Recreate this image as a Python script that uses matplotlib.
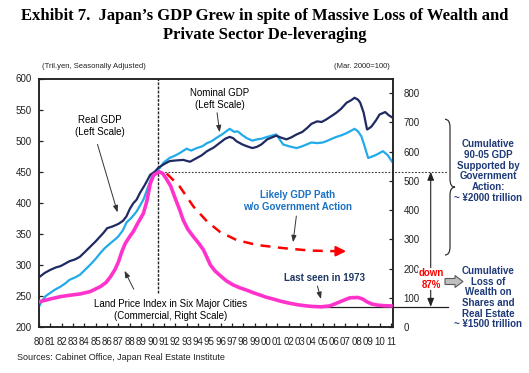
import matplotlib
matplotlib.use("Agg")
import matplotlib.pyplot as plt
from matplotlib.patches import Polygon
from matplotlib.path import Path
from matplotlib.patches import PathPatch
import matplotlib.transforms as mtransforms
import numpy as np

plt.rcParams['font.family'] = ['Liberation Sans', 'DejaVu Sans']

# ---- data ----
real_years = [1980.0, 1980.5, 1981.0, 1981.5, 1981.9, 1982.3, 1982.7, 1983.2, 1983.6, 1984.0,
              1984.5, 1985.0, 1985.4, 1985.7, 1986.0, 1986.5, 1987.0, 1987.4, 1987.7, 1988.0,
              1988.3, 1988.6, 1988.9, 1989.3, 1989.8, 1990.2, 1990.5, 1991.0, 1991.5, 1992.0,
              1992.7, 1993.3, 1993.9, 1994.3, 1994.8, 1995.4, 1995.9, 1996.4, 1996.8, 1997.1,
              1997.4, 1997.9, 1998.3, 1998.8, 1999.2, 1999.6, 2000.1, 2000.5, 2000.9, 2001.3,
              2001.8, 2002.2, 2002.7, 2003.2, 2003.6, 2004.0, 2004.5, 2004.9, 2005.3, 2005.8,
              2006.2, 2006.6, 2007.1, 2007.5, 2007.8, 2008.1, 2008.3, 2008.6, 2008.9, 2009.1,
              2009.3, 2009.7, 2010.0, 2010.5, 2010.8, 2011.15]
real_gdp = [280, 287, 292, 296, 298, 302, 306, 309, 313, 320,
            329, 338, 346, 352, 359, 362, 366, 371, 378, 390,
            399, 405, 416, 428, 445, 450, 456, 462, 467, 468,
            469, 466, 472, 476, 483, 489, 496, 503, 506, 504,
            499, 494, 491, 488, 490, 494, 502, 505, 508, 505,
            502, 505, 510, 514, 520, 527, 531, 530, 534, 540,
            545, 551, 561, 565, 569, 566, 561, 545, 518, 520,
            523, 533, 542, 546, 541, 537]

nom_years = [1980.0, 1980.3, 1980.6, 1981.0, 1981.4, 1981.9, 1982.3, 1982.7, 1983.2, 1983.6,
             1984.0, 1984.5, 1985.0, 1985.4, 1985.8, 1986.3, 1986.7, 1987.0, 1987.4, 1987.7,
             1988.2, 1988.6, 1989.2, 1989.6, 1990.0, 1990.5, 1991.0, 1991.5, 1992.0, 1992.4,
             1993.0, 1993.4, 1993.9, 1994.4, 1994.8, 1995.2, 1995.6, 1996.2, 1996.8, 1997.2,
             1997.5, 1997.9, 1998.3, 1998.8, 1999.2, 1999.6, 2000.1, 2000.5, 2000.9, 2001.2,
             2001.5, 2002.0, 2002.7, 2003.2, 2003.6, 2004.0, 2004.5, 2005.0, 2005.3, 2005.8,
             2006.2, 2006.7, 2007.1, 2007.5, 2007.8, 2008.1, 2008.4, 2008.7, 2009.0, 2009.3,
             2009.7, 2010.0, 2010.3, 2010.7, 2011.15]
nominal_gdp = [233, 243, 250, 255, 260, 265, 270, 276, 280, 284,
               291, 300, 310, 319, 327, 335, 341, 346, 356, 368,
               377, 386, 405, 425, 445, 453, 465, 472, 476, 480,
               487, 484, 488, 491, 496, 499, 504, 511, 519, 514,
               515, 509, 504, 500, 502, 503, 506, 508, 510, 502,
               494, 491, 488, 491, 494, 497, 496, 497, 499, 503,
               506, 509, 512, 516, 519, 515, 507, 490, 472, 474,
               477, 480, 483, 477, 465]

land_years = [1980.0, 1981.0, 1981.9, 1982.8, 1983.6, 1984.5, 1985.4, 1985.9, 1986.3, 1986.7,
              1987.0, 1987.3, 1987.6, 1988.0, 1988.3, 1988.7, 1989.2, 1989.5, 1989.8, 1990.1,
              1990.6, 1990.9, 1991.2, 1991.6, 1992.0, 1992.4, 1992.7, 1993.1, 1993.6, 1994.1,
              1994.5, 1995.1, 1995.5, 1995.9, 1996.5, 1997.1, 1997.7, 1998.3, 1998.9, 1999.5,
              2000.0, 2000.6, 2001.3, 2002.1, 2002.8, 2003.6, 2004.2, 2004.8, 2005.6, 2006.0,
              2006.5, 2007.0, 2007.4, 2008.1, 2008.5, 2008.9, 2009.3, 2009.8, 2010.4, 2011.0]
land_index = [86, 96, 104, 109, 113, 121, 138, 152, 172, 197,
              223, 258, 286, 310, 326, 355, 389, 430, 490, 520,
              531, 525, 508, 482, 440, 400, 366, 335, 309, 285,
              263, 212, 192, 178, 158, 144, 134, 126, 117, 109,
              102, 96, 88, 81, 76, 72, 70, 69, 72, 78,
              86, 94, 100, 101, 96, 86, 79, 75, 73, 72]

# hypothetical path without government action (left scale)
path_years = [1991.25, 1992.4, 1993.6, 1994.8, 1995.95, 1997.4, 1999.2, 2001.5, 2003.9, 2006.2]
path_gdp = [447, 426, 394, 370, 353, 340, 332, 327, 323, 322]

year_ticks = list(range(1980, 2012))
year_labels = ['%02d' % (y % 100) for y in year_ticks]

NAVY = '#1F2A63'
LBLUE = '#22ABEA'
PINK = '#FF33CC'
TXTBLUE = '#1F3A78'

W, H = 529, 373
fig = plt.figure(figsize=(W / 100, H / 100), dpi=100)


def px(x, y):
    return (x / W, 1 - y / H)


ax = fig.add_axes([39 / W, 1 - 327 / H, (392.7 - 39) / W, (327 - 78.5) / H])
ax2 = ax.twinx()

ax.plot(nom_years, nominal_gdp, color=LBLUE, lw=1.6, zorder=3)
ax.plot(real_years, real_gdp, color=NAVY, lw=1.6, zorder=4)
ax2.plot(land_years, land_index, color=PINK, lw=2.6, zorder=3)
ax.plot(path_years, path_gdp, color='#FF0000', lw=1.8, dashes=(4, 3), zorder=3)
ax.annotate('', xy=(2007.3, path_gdp[-1]), xytext=(2006.2, path_gdp[-1]),
            arrowprops=dict(arrowstyle='-|>,head_length=0.6,head_width=0.3', color='#FF0000', lw=1.5))

ax.set_xlim(1980, 2011.16)
ax.set_ylim(200, 600)
ax2.set_ylim(0, 850)
ax.set_yticks([200, 250, 300, 350, 400, 450, 500, 550, 600])
ax2.set_yticks([0, 100, 200, 300, 400, 500, 600, 700, 800])
ax.set_xticks(year_ticks)
ax.set_xticklabels(year_labels)

for a in (ax, ax2):
    for s in a.spines.values():
        s.set_linewidth(1.1)
        s.set_color('#222222')
ax.tick_params(axis='both', direction='in', length=3, width=0.9, labelsize=7, colors='#222222')
ax.tick_params(axis='y', pad=5)
ax.tick_params(axis='x', pad=7)
ax2.tick_params(axis='y', direction='in', length=3, width=0.9, labelsize=7, pad=8, colors='#222222')

# reference lines
peak_i = int(np.argmax(land_index))
low_i = int(np.argmin(land_index))
ax.axvline(1990.5, ymin=0.137, ymax=1, color='#222222', lw=1.0, ls=(0, (2, 1)))
ax2.plot([1990.5, 2016.0], [land_index[peak_i]] * 2, color='#333333', lw=0.8, ls=(0, (1.5, 1.5)), clip_on=False)
ax2.plot([land_years[low_i], 2016.0], [land_index[low_i]] * 2, color='#222222', lw=0.9, clip_on=False)

# down 87% arrow (figure x, right-scale y)
blend = mtransforms.blended_transform_factory(fig.transFigure, ax2.transData)
xa = 430.7 / W
ax2.annotate('', xy=(xa, land_index[low_i]), xytext=(xa, land_index[peak_i]), xycoords=blend, textcoords=blend,
             arrowprops=dict(arrowstyle='<|-|>,head_length=0.5,head_width=0.2', color='#222222', lw=0.8,
                             shrinkA=0, shrinkB=0), annotation_clip=False)
fig.text(*px(431, 278.5), 'down\n87%', color='#FF0000', fontsize=7, fontweight='bold', ha='center', va='center',
         linespacing=1.25, bbox=dict(fc='white', ec='none', pad=0))

# title
fig.text(*px(265, 25.5), 'Exhibit 7.  Japan\u2019s GDP Grew in spite of Massive Loss of Wealth and\nPrivate Sector De-leveraging',
         family='Liberation Serif', fontweight='bold', fontsize=12, ha='center', va='center', linespacing=1.25)

fig.text(*px(42, 66), '(Tril.yen, Seasonally Adjusted)', fontsize=5.5, ha='left', va='center', color='#222222')
fig.text(*px(390, 66), '(Mar. 2000=100)', fontsize=5.5, ha='right', va='center', color='#222222')

# series labels with pointer arrows
arrow_kw = dict(arrowstyle='-|>,head_length=0.4,head_width=0.15', color='#333333', lw=0.7)
fig.text(*px(100, 126), 'Real GDP\n(Left Scale)', fontsize=7, ha='center', va='center', linespacing=1.2)
fig.add_artist(plt.Annotation('', xy=px(118.3, 215), xytext=px(96.7, 141.7), xycoords='figure fraction',
                              arrowprops=arrow_kw))
fig.text(*px(220, 99), 'Nominal GDP\n(Left Scale)', fontsize=7, ha='center', va='center', linespacing=1.2)
fig.add_artist(plt.Annotation('', xy=px(220, 135), xytext=px(216.7, 110), xycoords='figure fraction',
                              arrowprops=arrow_kw))
fig.text(*px(298, 201), 'Likely GDP Path\nw/o Government Action', fontsize=7, fontweight='bold', color='#1A72C4',
         ha='center', va='center', linespacing=1.2)
fig.add_artist(plt.Annotation('', xy=px(292.7, 245), xytext=px(296.7, 213.3), xycoords='figure fraction',
                              arrowprops=arrow_kw))
fig.text(*px(325, 278.3), 'Last seen in 1973', fontsize=7, fontweight='bold', color='#1F3864',
         ha='center', va='center')
fig.add_artist(plt.Annotation('', xy=px(321.7, 301.7), xytext=px(316.7, 283.3), xycoords='figure fraction',
                              arrowprops=arrow_kw))
fig.text(*px(171, 310), 'Land Price Index in Six Major Cities\n(Commercial, Right Scale)', fontsize=7,
         ha='center', va='center', linespacing=1.2)
fig.add_artist(plt.Annotation('', xy=px(123.3, 268.3), xytext=px(135, 291.7), xycoords='figure fraction',
                              arrowprops=arrow_kw))

# right-hand commentary
fig.text(*px(488, 171), 'Cumulative\n90-05 GDP\nSupported by\nGovernment\nAction:\n~ \u00a52000 trillion',
         fontsize=7, fontweight='bold', color=TXTBLUE, ha='center', va='center', linespacing=1.08)
fig.text(*px(488, 297.6), 'Cumulative\nLoss of\nWealth on\nShares and\nReal Estate\n~ \u00a51500 trillion',
         fontsize=7, fontweight='bold', color=TXTBLUE, ha='center', va='center', linespacing=1.08)

# curly brace
bt, bb, bx = 119.3, 255, 445
bm = (bt + bb) / 2
verts = [px(bx, bt), px(bx + 5, bt), px(bx + 5, bt + 8),
         px(bx + 5, bm - 8), px(bx + 5, bm), px(bx + 10, bm),
         px(bx + 5, bm), px(bx + 5, bm + 8),
         px(bx + 5, bb - 8), px(bx + 5, bb), px(bx, bb)]
codes = [Path.MOVETO, Path.CURVE3, Path.CURVE3,
         Path.LINETO, Path.CURVE3, Path.CURVE3,
         Path.CURVE3, Path.CURVE3,
         Path.LINETO, Path.CURVE3, Path.CURVE3]
fig.add_artist(PathPatch(Path(verts, codes), transform=fig.transFigure, fc='none', ec='#333333', lw=0.9))

# gray block arrow
ax0, ay = 445, 281.5
arrow_pts = [px(ax0, ay - 3), px(ax0 + 10, ay - 3), px(ax0 + 10, ay - 6), px(ax0 + 18, ay),
             px(ax0 + 10, ay + 6), px(ax0 + 10, ay + 3), px(ax0, ay + 3)]
fig.add_artist(Polygon(arrow_pts, closed=True, transform=fig.transFigure, fc='#BFBFBF', ec='#595959', lw=0.8))

fig.text(*px(17, 357), 'Sources: Cabinet Office, Japan Real Estate Institute', fontsize=6.5, ha='left', va='center',
         color='#222222')

fig.savefig('out.png', dpi=100)
